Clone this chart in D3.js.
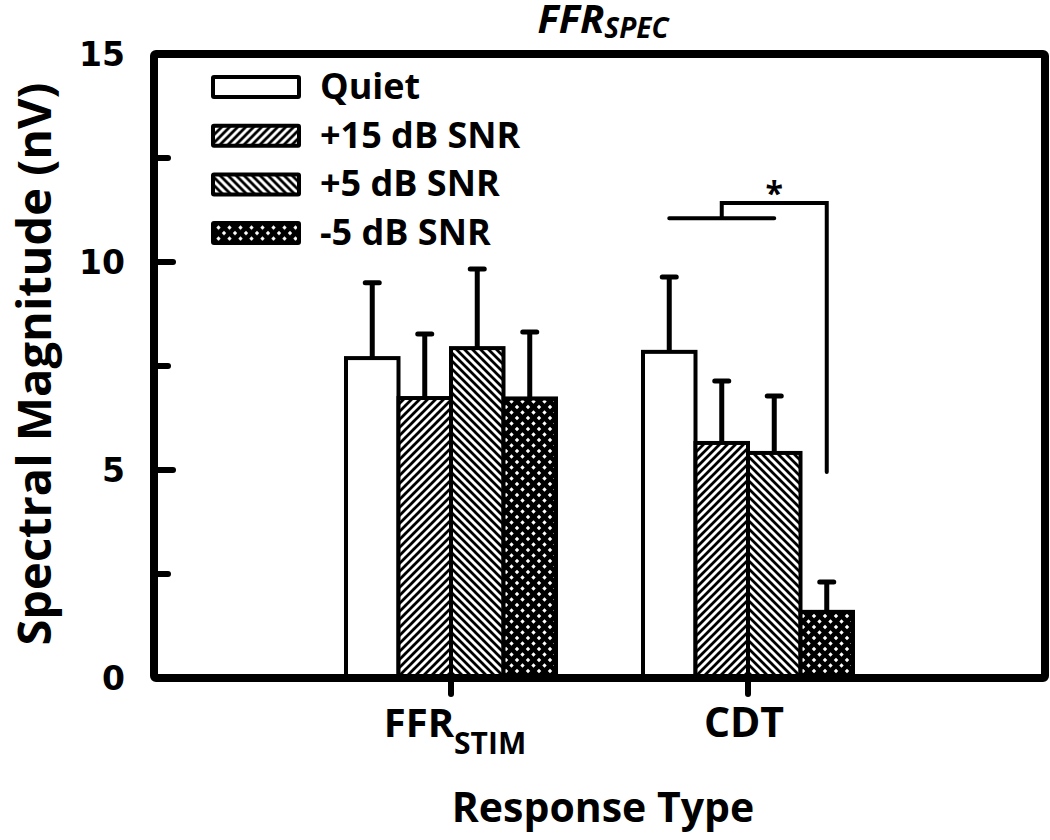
<!DOCTYPE html>
<html lang="en">
<head>
    <meta charset="UTF-8">
    <script src="https://cdnjs.cloudflare.com/ajax/libs/d3/7.8.5/d3.min.js"></script>
    <style>
        body { margin: 0; background: #fff; }
        svg { display: block; }
        text { font-family: "Open Sans", "Noto Sans", sans-serif; font-weight: 700; fill: #000; }
        .ticklab { font-family: "DejaVu Sans", sans-serif; font-weight: 700; }
    </style>
</head>
<body>
<div class="chart"></div>
<script>
    // data
    const categories = ['FFR_STIM', 'CDT']
    const series = ['Quiet', '+15 dB SNR', '+5 dB SNR', '-5 dB SNR']
    const ffrStim = [7.69, 6.73, 7.93, 6.72]
    const ffrStimErr = [1.81, 1.54, 1.90, 1.60]
    const cdt = [7.84, 5.65, 5.41, 1.59]
    const cdtErr = [1.80, 1.49, 1.37, 0.72]
    const yTicks = [0, 5, 10, 15]
    const yMinorTicks = [2.5, 7.5, 12.5]
    // significance bracket levels
    const sigLow = 11.05, sigHigh = 11.42, sigDrop = 4.95

    const width = 1050, height = 840
    const mLeft = 154, mRight = 1045, mTop = 54, mBottom = 678

    const svg = d3.select('.chart')
        .append('svg')
        .attr('width', width)
        .attr('height', height)

    const fills = ['white', 'url(#fwd)', 'url(#back)', 'url(#cross)']

    // hatch patterns
    const defs = svg.append('defs')
    const fwd = defs.append('pattern').attr('id', 'fwd')
        .attr('patternUnits', 'userSpaceOnUse').attr('width', 8).attr('height', 8)
    fwd.append('rect').attr('width', 8).attr('height', 8).attr('fill', 'white')
    fwd.append('path').attr('d', 'M0,8 L8,0 M-2,2 L2,-2 M6,10 L10,6')
        .attr('stroke', 'black').attr('stroke-width', 2.8)

    const back = defs.append('pattern').attr('id', 'back')
        .attr('patternUnits', 'userSpaceOnUse').attr('width', 8).attr('height', 8)
    back.append('rect').attr('width', 8).attr('height', 8).attr('fill', 'white')
    back.append('path').attr('d', 'M0,0 L8,8 M-2,6 L2,10 M6,-2 L10,2')
        .attr('stroke', 'black').attr('stroke-width', 2.8)

    const cross = defs.append('pattern').attr('id', 'cross')
        .attr('patternUnits', 'userSpaceOnUse').attr('width', 11).attr('height', 11)
    cross.append('rect').attr('width', 11).attr('height', 11).attr('fill', 'black')
    const diamond = (cx, cy, r) => `M${cx},${cy - r} L${cx + r},${cy} L${cx},${cy + r} L${cx - r},${cy} Z`
    cross.append('path')
        .attr('d', [[5.5, 5.5], [0, 0], [11, 0], [0, 11], [11, 11]].map(p => diamond(p[0], p[1], 2.2)).join(' '))
        .attr('fill', 'white')

    const y = d3.scaleLinear().domain([0, 15]).range([mBottom, mTop])
    const x = d3.scalePoint().domain(categories).range([mLeft, mRight]).padding(1)
    const xs = d3.scaleBand().domain(series).range([-105, 105])

    const rows = [ffrStim, cdt].map((vals, i) => ({
        cat: categories[i],
        items: vals.map((v, j) => ({ s: series[j], v: v, e: [ffrStimErr, cdtErr][i][j], f: fills[j] }))
    }))

    const groups = svg.selectAll('.grp')
        .data(rows)
        .enter().append('g')
        .attr('class', 'grp')
        .attr('transform', d => `translate(${x(d.cat)},0)`)

    // error bars (upper only)
    groups.selectAll('.err')
        .data(d => d.items)
        .enter().append('path')
        .attr('class', 'err')
        .attr('d', d => {
            const cx = xs(d.s) + xs.bandwidth() / 2
            return `M${cx},${y(d.v)} V${y(d.v + d.e)} M${cx - 7},${y(d.v + d.e)} H${cx + 7}`
        })
        .attr('stroke', 'black')
        .attr('stroke-width', 5)
        .attr('stroke-linecap', 'round')
        .attr('fill', 'none')

    groups.selectAll('.bar')
        .data(d => d.items)
        .enter().append('rect')
        .attr('class', 'bar')
        .attr('x', d => xs(d.s))
        .attr('width', xs.bandwidth())
        .attr('y', d => y(d.v))
        .attr('height', d => y(0) - y(d.v))
        .attr('fill', d => d.f)
        .attr('stroke', 'black')
        .attr('stroke-width', 4)

    // significance bracket on CDT
    const bc = s => x('CDT') + xs(s) + xs.bandwidth() / 2
    svg.append('path')
        .attr('d', `M${bc(series[0])},${y(sigLow)} H${bc(series[2])}` +
            ` M${bc(series[1])},${y(sigLow)} V${y(sigHigh)} H${bc(series[3])} V${y(sigDrop)}`)
        .attr('stroke', 'black')
        .attr('stroke-width', 4)
        .attr('stroke-linecap', 'round')
        .attr('fill', 'none')
    svg.append('text')
        .attr('x', (bc(series[1]) + bc(series[3])) / 2)
        .attr('y', y(sigHigh) + 2)
        .attr('text-anchor', 'middle')
        .style('font-size', '32px')
        .text('*')

    // frame
    svg.append('rect')
        .attr('x', mLeft).attr('y', mTop)
        .attr('width', mRight - mLeft).attr('height', mBottom - mTop)
        .attr('fill', 'none')
        .attr('stroke', 'black')
        .attr('stroke-width', 8)
        .attr('rx', 2)

    // y ticks, pointing inwards
    svg.selectAll('.ytick')
        .data(yTicks.slice(1, -1).concat(yMinorTicks))
        .enter().append('line')
        .attr('x1', mLeft)
        .attr('x2', d => yTicks.includes(d) ? mLeft + 19 : mLeft + 14)
        .attr('y1', d => y(d)).attr('y2', d => y(d))
        .attr('stroke', 'black').attr('stroke-width', 6).attr('stroke-linecap', 'round')

    svg.selectAll('.ylab')
        .data(yTicks)
        .enter().append('text')
        .attr('class', 'ticklab')
        .attr('x', 125)
        .attr('y', d => y(d) + 12)
        .attr('text-anchor', 'end')
        .style('font-size', '33px')
        .text(d => d)

    // x ticks, pointing down
    svg.selectAll('.xtick')
        .data(categories)
        .enter().append('line')
        .attr('x1', d => x(d)).attr('x2', d => x(d))
        .attr('y1', mBottom).attr('y2', mBottom + 16)
        .attr('stroke', 'black').attr('stroke-width', 6).attr('stroke-linecap', 'round')

    const xl1 = svg.append('text')
        .attr('x', x('FFR_STIM') + 4).attr('y', 737)
        .attr('text-anchor', 'middle')
        .style('font-size', '40px')
    xl1.append('tspan').text('FFR')
    xl1.append('tspan').attr('dy', 17).style('font-size', '30px').text('STIM')

    svg.append('text')
        .attr('x', x('CDT') - 4).attr('y', 737)
        .attr('text-anchor', 'middle')
        .style('font-size', '41px')
        .text('CDT')

    // title
    const title = svg.append('text')
        .attr('x', 603).attr('y', 33)
        .attr('text-anchor', 'middle')
        .style('font-size', '40px')
        .style('font-style', 'italic')
    title.append('tspan').text('FFR')
    title.append('tspan').attr('dy', 5).style('font-size', '28px').text('SPEC')

    // axis titles
    svg.append('text')
        .attr('x', 603).attr('y', 822)
        .attr('text-anchor', 'middle')
        .style('font-size', '41px')
        .text('Response Type')

    svg.append('text')
        .attr('transform', 'translate(51,364) rotate(-90)')
        .attr('text-anchor', 'middle')
        .style('font-size', '47px')
        .text('Spectral Magnitude (nV)')

    // legend
    const legend = svg.selectAll('.leg')
        .data(series)
        .enter().append('g')
        .attr('class', 'leg')
        .attr('transform', (d, i) => `translate(213,${87 + i * 48.7})`)
    legend.append('rect')
        .attr('x', 0).attr('y', -10)
        .attr('width', 86).attr('height', 20)
        .attr('fill', (d, i) => fills[i])
        .attr('stroke', 'black').attr('stroke-width', 4).attr('rx', 1)
    legend.append('text')
        .attr('x', 107).attr('y', 12)
        .style('font-size', '36px')
        .text(d => d)
</script>
</body>
</html>
